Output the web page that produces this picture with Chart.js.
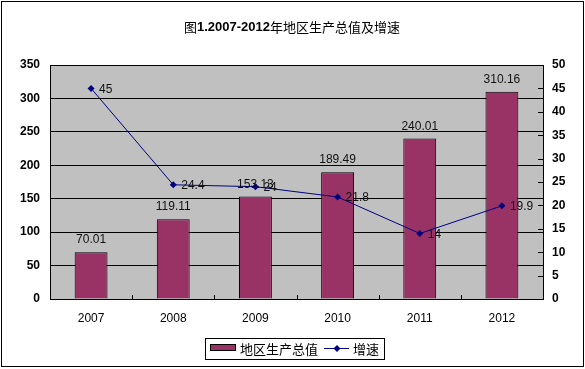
<!DOCTYPE html>
<html><head><meta charset="utf-8">
<script src="https://cdn.jsdelivr.net/npm/chart.js@4/dist/chart.umd.min.js"></script>
<style>html,body{margin:0;padding:0;background:#fff}#wrap{width:585px;height:369px}</style>
</head><body><div id="wrap"><canvas id="c" width="585" height="369"></canvas></div>
<script>
const titleText = "图1.2007-2012年地区生产总值及增速";
const categories = ["2007","2008","2009","2010","2011","2012"];
const gdpValues = [70.01, 119.11, 153.13, 189.49, 240.01, 310.16];
const growthValues = [45, 24.4, 24, 21.8, 14, 19.9];
const gdpLabel = "地区生产总值";
const growthLabel = "增速";

const CJK = '"Noto Sans CJK SC", sans-serif';
const LAT = '"Liberation Sans", Arial, sans-serif';

const deco = {
  id: 'deco',
  beforeDraw(chart) {
    const {ctx, chartArea: a} = chart;
    ctx.save();
    ctx.fillStyle = '#fff';
    ctx.fillRect(0, 0, chart.width, chart.height);
    ctx.fillStyle = '#c0c0c0';
    ctx.fillRect(a.left, a.top, a.right - a.left, a.bottom - a.top);
    ctx.restore();
  },
  afterDatasetsDraw(chart) {
    const {ctx, chartArea: a} = chart;
    const xs = chart.scales.x, yR = chart.scales.y1;
    ctx.save();
    ctx.strokeStyle = '#000'; ctx.lineWidth = 1;
    ctx.beginPath();
    yR.ticks.forEach(t => {
      const y = Math.round(yR.getPixelForValue(t.value)) + 0.5;
      ctx.moveTo(a.right - 5, y); ctx.lineTo(a.right, y);
    });
    for (let i = 1; i < categories.length; i++) {
      const x = Math.round((xs.getPixelForValue(i - 1) + xs.getPixelForValue(i)) / 2) + 0.5;
      ctx.moveTo(x, a.bottom - 4); ctx.lineTo(x, a.bottom);
    }
    ctx.stroke();
    ctx.fillStyle = '#111';
    ctx.font = '12px ' + LAT;
    ctx.textAlign = 'center'; ctx.textBaseline = 'alphabetic';
    chart.getDatasetMeta(0).data.forEach((el, i) => {
      ctx.fillText(gdpValues[i].toFixed(2), el.x, el.y - 9);
    });
    ctx.textAlign = 'left'; ctx.textBaseline = 'middle';
    chart.getDatasetMeta(1).data.forEach((el, i) => {
      ctx.fillText(String(growthValues[i]), el.x + 8, el.y + 1);
    });
    ctx.restore();
  },
  afterDraw(chart) {
    const ctx = chart.ctx;
    ctx.save();
    ctx.strokeStyle = '#000'; ctx.lineWidth = 1;
    ctx.strokeRect(1.5, 1.5, 582, 365);
    const parts = [["图", '13px ' + CJK], ["1.2007-2012", 'bold 13px ' + LAT], ["年地区生产总值及增速", '13px ' + CJK]];
    let w = 0;
    parts.forEach(p => { ctx.font = p[1]; w += ctx.measureText(p[0]).width; });
    let x = 292 - w / 2;
    ctx.fillStyle = '#000'; ctx.textBaseline = 'middle'; ctx.textAlign = 'left';
    parts.forEach(p => { ctx.font = p[1]; ctx.fillText(p[0], x, 27); x += ctx.measureText(p[0]).width; });
    ctx.strokeRect(205.5, 338.5, 179, 21);
    ctx.fillStyle = '#993366';
    ctx.fillRect(211, 345, 25, 6);
    ctx.strokeRect(210.5, 344.5, 25, 6);
    ctx.fillStyle = '#000';
    ctx.font = '13px ' + CJK;
    ctx.fillText(gdpLabel, 240, 349);
    ctx.strokeStyle = '#000080';
    ctx.beginPath(); ctx.moveTo(324, 348.5); ctx.lineTo(349, 348.5); ctx.stroke();
    ctx.fillStyle = '#000080';
    ctx.beginPath(); ctx.moveTo(337, 345); ctx.lineTo(340.5, 348.5); ctx.lineTo(337, 352); ctx.lineTo(333.5, 348.5); ctx.closePath(); ctx.fill();
    ctx.fillStyle = '#000';
    ctx.fillText(growthLabel, 353, 349);
    ctx.restore();
  }
};

new Chart(document.getElementById('c'), {
  data: {
    labels: categories,
    datasets: [
      { type: 'bar', label: gdpLabel, data: gdpValues, yAxisID: 'y', order: 1,
        backgroundColor: '#993366', borderColor: '#000', borderWidth: 1,
        barPercentage: 0.4, categoryPercentage: 1 },
      { type: 'line', label: growthLabel, data: growthValues, yAxisID: 'y1', order: 0,
        borderColor: '#000080', borderWidth: 1, pointStyle: 'rectRot', pointRadius: 3.5,
        pointBackgroundColor: '#000080', pointBorderColor: '#000080', pointBorderWidth: 0, tension: 0 }
    ]
  },
  options: {
    responsive: false, animation: false, devicePixelRatio: 1,
    layout: { padding: { top: 65, left: 0, right: 0, bottom: 0 } },
    plugins: { legend: { display: false }, title: { display: false }, tooltip: { enabled: false } },
    scales: {
      x: {
        afterFit(s) { s.height = 70; },
        grid: { drawOnChartArea: false, drawTicks: false },
        border: { display: true, color: '#000', width: 1 },
        ticks: { color: '#000', font: { family: LAT, size: 12 }, padding: 12 }
      },
      y: {
        position: 'left', min: 0, max: 350,
        afterFit(s) { s.width = 50; },
        grid: { color: '#000', lineWidth: 1, drawTicks: false },
        border: { display: true, color: '#000', width: 1 },
        ticks: { stepSize: 50, color: '#000', font: { family: LAT, size: 12, weight: 'bold' }, padding: 10 }
      },
      y1: {
        position: 'right', min: 0, max: 50,
        afterFit(s) { s.width = 42; },
        grid: { drawOnChartArea: false, drawTicks: false },
        border: { display: true, color: '#000', width: 1 },
        ticks: { stepSize: 5, color: '#000', font: { family: LAT, size: 12, weight: 'bold' }, padding: 9 }
      }
    }
  },
  plugins: [deco]
});
</script></body></html>
